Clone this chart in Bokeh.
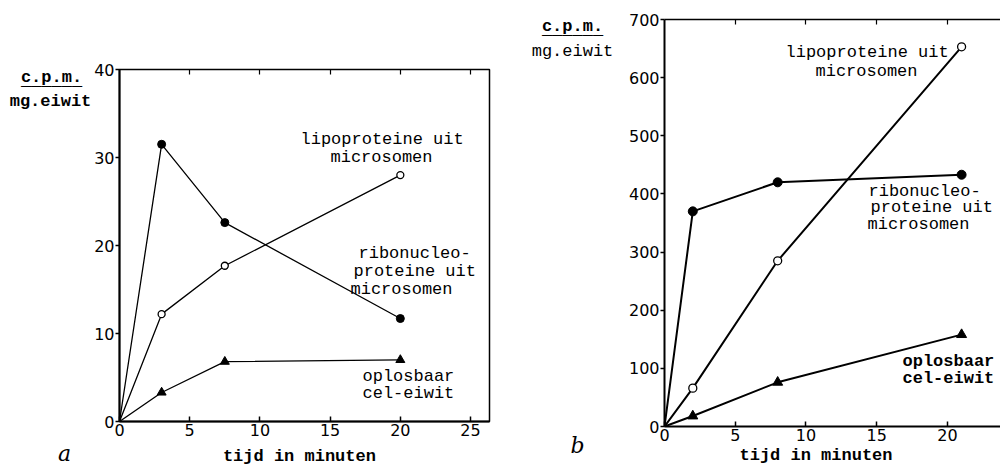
from bokeh.plotting import figure
from bokeh.layouts import row
from bokeh.models import Label, LinearAxis, Range1d, FixedTicker, Title
from bokeh.embed import file_html
from bokeh.resources import INLINE

# ---- data, panel a ----
a_time = [0, 3, 7.5, 20]
a_ribo = [0, 31.5, 22.6, 11.7]
a_lipo = [0, 12.2, 17.7, 28.0]
a_opl = [0, 3.3, 6.8, 7.0]
a_xticks = [0, 5, 10, 15, 20, 25]
a_yticks = [0, 10, 20, 30, 40]

# ---- data, panel b ----
b_time = [0, 2, 8, 21]
b_ribo = [0, 370, 420, 433]
b_lipo = [0, 66, 285, 653]
b_opl = [0, 18, 76, 158]
b_xticks = [0, 5, 10, 15, 20]
b_yticks = [0, 100, 200, 300, 400, 500, 600, 700]

MONO = "Liberation Mono"
NUM = "DejaVu Sans"
H = 469


def no_align(p):
    try:
        p.frame_align = False
    except Exception:
        pass


def make_fig(width, xr, yr, borders, xticks, yticks, outline):
    l, r, t, b = borders
    p = figure(width=width, height=H, output_backend="svg", toolbar_location=None,
               x_range=Range1d(*xr), y_range=Range1d(*yr),
               x_axis_location=None, y_axis_location=None,
               min_border_left=l, min_border_right=r, min_border_top=t, min_border_bottom=b)
    no_align(p)
    p.grid.visible = False
    p.background_fill_color = "white"
    p.border_fill_color = "white"
    if outline:
        p.outline_line_color = "black"
        p.outline_line_width = 1.5
        p.outline_line_alpha = 1
    else:
        p.outline_line_color = None

    xa = LinearAxis(ticker=FixedTicker(ticks=xticks))
    xa.axis_line_width = 2
    xa.major_tick_in = 5
    xa.major_tick_out = 0
    xa.major_tick_line_width = 1.5
    xa.minor_tick_line_color = None
    xa.major_label_standoff = 2
    xa.major_label_text_font = NUM
    xa.major_label_text_font_size = "16px"
    xa.major_label_text_color = "black"
    p.add_layout(xa, "below")

    ya = LinearAxis(ticker=FixedTicker(ticks=yticks))
    ya.axis_line_width = 2
    ya.major_tick_in = 0
    ya.major_tick_out = 4
    ya.major_tick_line_width = 1.5
    ya.minor_tick_line_color = None
    ya.major_label_standoff = 1
    ya.major_label_text_font = NUM
    ya.major_label_text_font_size = "16px"
    ya.major_label_text_color = "black"
    p.add_layout(ya, "left")

    ta = LinearAxis(ticker=FixedTicker(ticks=xticks[1:]))
    if outline:
        ta.axis_line_color = None
    else:
        ta.axis_line_width = 1.5
    ta.major_tick_in = 5
    ta.major_tick_out = 0
    ta.major_tick_line_width = 1.2
    ta.minor_tick_line_color = None
    ta.major_label_text_font_size = "0px"
    ta.major_label_standoff = 0
    p.add_layout(ta, "above")
    return p, xa


def text_fig(width):
    p = figure(width=width, height=H, output_backend="svg", toolbar_location=None,
               x_range=Range1d(0, width), y_range=Range1d(0, H),
               x_axis_location=None, y_axis_location=None, min_border=0)
    no_align(p)
    p.grid.visible = False
    p.outline_line_color = None
    p.background_fill_color = "white"
    p.border_fill_color = "white"
    return p


def add_series(p, t, ribo, lipo, opl, lw, ms):
    for ys in (ribo, lipo, opl):
        p.line(t, ys, line_color="black", line_width=lw)
    p.scatter(t[1:], ribo[1:], marker="circle", size=ms, fill_color="black", line_color="black")
    p.scatter(t[1:], lipo[1:], marker="circle", size=ms - 1, fill_color="white",
              line_color="black", line_width=1.3)
    p.scatter(t[1:], opl[1:], marker="triangle", size=ms + 1, fill_color="black", line_color="black")


def txt(p, x, y, s, size="17px", bold=False, align="left", font=MONO, italic=False):
    style = "normal"
    if bold and italic:
        style = "bold italic"
    elif bold:
        style = "bold"
    elif italic:
        style = "italic"
    p.add_layout(Label(x=x, y=y, x_units="screen", y_units="screen", text=s,
                       text_font=font, text_font_size=size, text_font_style=style,
                       text_align=align, text_baseline="middle", text_color="black"))


# left text strip
ta_fig = text_fig(91)
txt(ta_fig, 51, 392, "c.p.m.", bold=True, align="center")
txt(ta_fig, 51, 389, "______", bold=True, align="center")
txt(ta_fig, 50, 368, "mg.eiwit", bold=True, align="center")
txt(ta_fig, 64, 16, "a", size="22px", align="center", font="DejaVu Serif", italic=True)

# panel a
pa, pa_x = make_fig(403, (0, 26.35), (0, 40), (28, 5, 69, 48), a_xticks, a_yticks, True)
add_series(pa, a_time, a_ribo, a_lipo, a_opl, 1.3, 8)
txt(pa, 181, 282, "lipoproteine uit")
txt(pa, 211, 264, "microsomen")
txt(pa, 239, 168, "ribonucleo-")
txt(pa, 234, 150, "proteine uit")
txt(pa, 231, 132, "microsomen")
txt(pa, 243, 45, "oplosbaar")
txt(pa, 243, 28, "cel-eiwit")
pa_x.axis_label = "tijd in minuten\u00a0"
pa_x.axis_label_standoff = 8
pa_x.axis_label_text_font = MONO
pa_x.axis_label_text_font_size = "17px"
pa_x.axis_label_text_font_style = "bold"
pa_x.axis_label_text_color = "black"

# middle text strip
tb_fig = text_fig(131)
txt(tb_fig, 78, 443, "c.p.m.", bold=True, align="center")
txt(tb_fig, 78, 440, "______", bold=True, align="center")
txt(tb_fig, 78, 418, "mg.eiwit", align="center")
txt(tb_fig, 83, 24, "b", size="22px", align="center", font="DejaVu Serif", italic=True)

# panel b
pb, pb_x = make_fig(375, (0, 23.75), (0, 700), (39, 0, 19, 43), b_xticks, b_yticks, False)
add_series(pb, b_time, b_ribo, b_lipo, b_opl, 2.0, 9)
txt(pb, 121, 374, "lipoproteine uit")
txt(pb, 151, 355, "microsomen")
txt(pb, 204, 235, "ribonucleo-")
txt(pb, 206, 219, "proteine uit")
txt(pb, 203, 202, "microsomen")
txt(pb, 238, 65, "oplosbaar", bold=True)
txt(pb, 238, 48, "cel-eiwit", bold=True)
pb.add_layout(Title(text="tijd in minuten", align="left", offset=75, standoff=0,
                    text_font=MONO, text_font_size="17px", text_font_style="bold",
                    text_color="black"), "below")

layout = row(ta_fig, pa, tb_fig, pb, spacing=0)
open("out.html", "w").write(file_html(layout, INLINE))
